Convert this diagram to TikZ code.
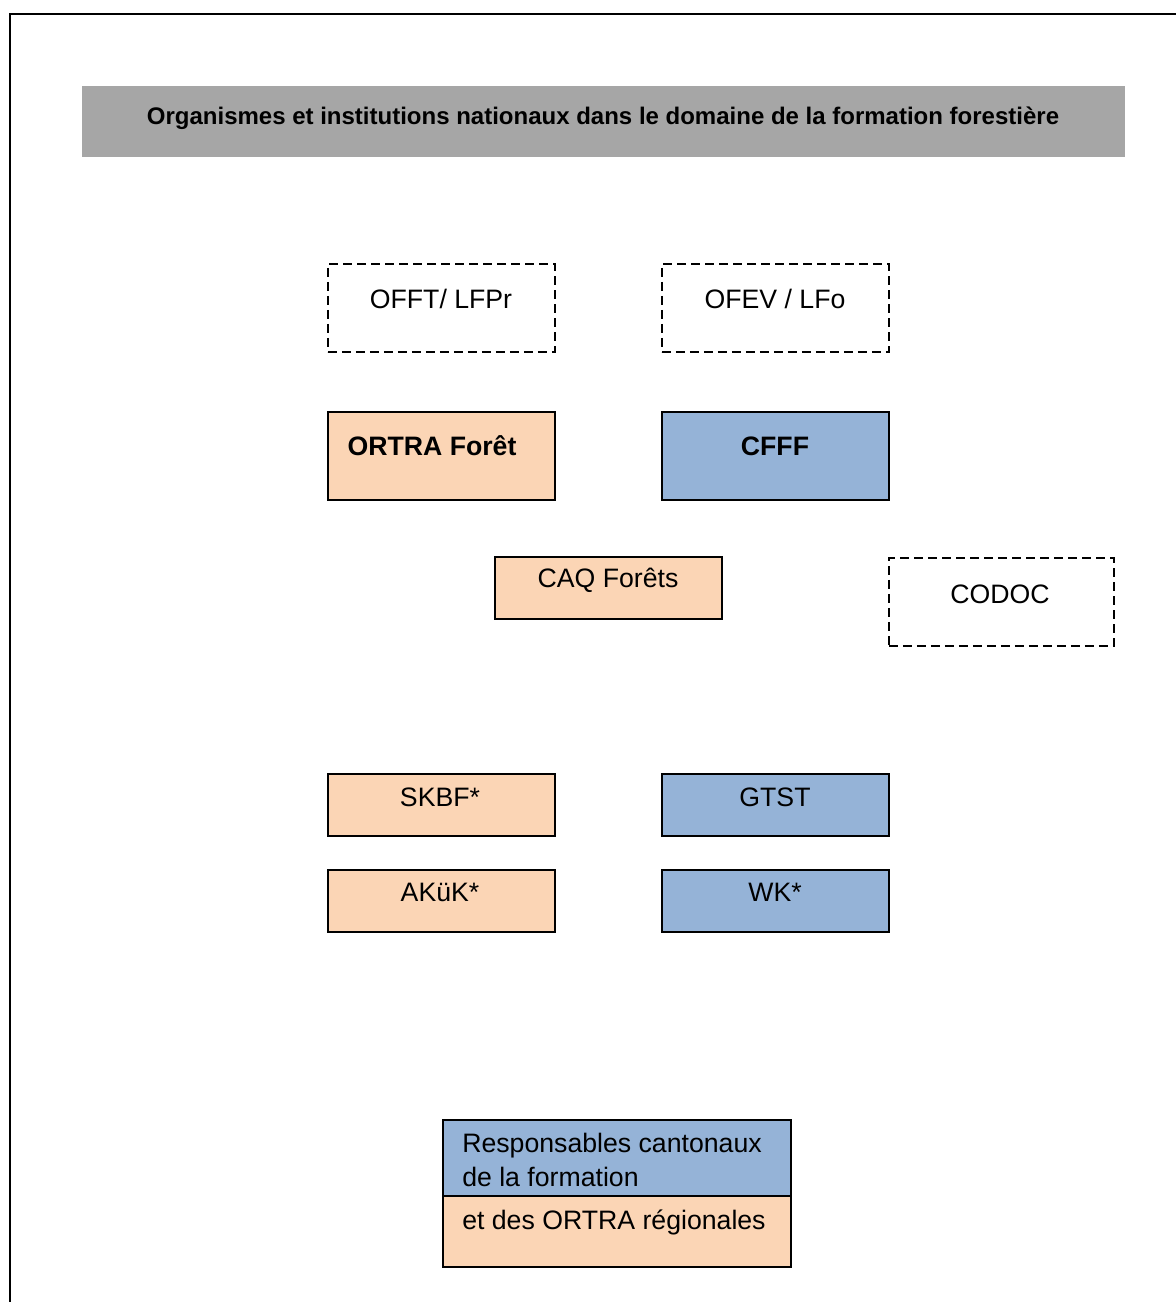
\documentclass[tikz,border=0pt]{standalone}
\usepackage{fontspec}
\setmainfont{Liberation Sans}
\definecolor{peach}{HTML}{FBD5B5}
\definecolor{lblue}{HTML}{95B3D7}
\definecolor{tgray}{HTML}{A6A6A6}
\begin{document}
\begin{tikzpicture}[x=0.75pt,y=-0.75pt,
  box/.style={draw=black,line width=1.4pt,inner sep=0pt,anchor=north west},
  dbox/.style={box,dash pattern=on 6.5pt off 4pt},
  txt/.style={inner sep=0pt,font=\fontsize{20pt}{24pt}\selectfont},
  btxt/.style={txt,font=\fontsize{20pt}{24pt}\selectfont\bfseries}]
\useasboundingbox (0,0) rectangle (1176,1302);
\clip (0,0) rectangle (1176,1302);
\fill[white] (0,0) rectangle (1176,1302);
\node[draw=black,line width=1.8pt,inner sep=0pt,anchor=north west,minimum width=1200*0.75pt,minimum height=1320*0.75pt] (frame) at (9,13) {};
% title
\node[fill=tgray,inner sep=0pt,anchor=north west,minimum width=1043*0.75pt,minimum height=71*0.75pt] (title) at (82,86) {};
\node[inner sep=0pt,font=\fontsize{18pt}{21pt}\selectfont\bfseries] (titletxt) at (603,118) {Organismes et institutions nationaux dans le domaine de la formation forestière};
% dashed boxes
\node[dbox,minimum width=227*0.75pt,minimum height=88*0.75pt] (offt) at (327,263) {};
\node[txt] (offtT) at (441,299) {OFFT/ LFPr};
\node[dbox,minimum width=227*0.75pt,minimum height=88*0.75pt] (ofev) at (661,263) {};
\node[txt] (ofevT) at (775,299) {OFEV / LFo};
% ORTRA / CFFF
\node[box,fill=peach,minimum width=227*0.75pt,minimum height=88*0.75pt] (ortra) at (327,411) {};
\node[btxt] (ortraT) at (432,446) {ORTRA Forêt};
\node[box,fill=lblue,minimum width=227*0.75pt,minimum height=88*0.75pt] (cfff) at (661,411) {};
\node[btxt] (cfffT) at (775,446) {CFFF};
% CAQ / CODOC
\node[box,fill=peach,minimum width=227*0.75pt,minimum height=62*0.75pt] (caq) at (494,556) {};
\node[txt] (caqT) at (608,580) {CAQ Forêts};
\node[dbox,minimum width=225*0.75pt,minimum height=88*0.75pt] (codoc) at (888,557) {};
\node[txt] (codocT) at (1000,594) {CODOC};
% SKBF etc
\node[box,fill=peach,minimum width=227*0.75pt,minimum height=62*0.75pt] (skbf) at (327,773) {};
\node[txt] (skbfT) at (440,797) {SKBF*};
\node[box,fill=lblue,minimum width=227*0.75pt,minimum height=62*0.75pt] (gtst) at (661,773) {};
\node[txt] (gtstT) at (775,797) {GTST};
\node[box,fill=peach,minimum width=227*0.75pt,minimum height=62*0.75pt] (akuk) at (327,869) {};
\node[txt] (akukT) at (440,892) {AKüK*};
\node[box,fill=lblue,minimum width=227*0.75pt,minimum height=62*0.75pt] (wk) at (661,869) {};
\node[txt] (wkT) at (775,892) {WK*};
% bottom
\node[box,fill=lblue,minimum width=348*0.75pt,minimum height=76*0.75pt] (resp) at (442,1119) {};
\node[box,fill=peach,minimum width=348*0.75pt,minimum height=71*0.75pt] (reg) at (442,1195) {};
\node[txt,anchor=west] (respT1) at (462,1146) {Responsables cantonaux};
\node[txt,anchor=west] (respT2) at (462,1177) {de la formation};
\node[txt,anchor=west] (regT) at (462,1222) {et des ORTRA régionales};
\end{tikzpicture}
\end{document}
